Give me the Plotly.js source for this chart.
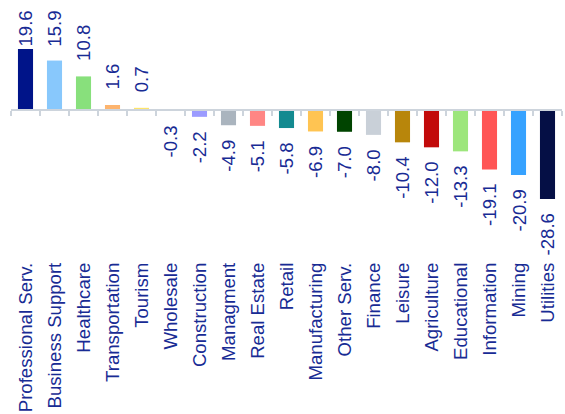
<!DOCTYPE html>
<html>
<head>
<meta charset="utf-8">
<script src="https://cdn.plot.ly/plotly-3.0.1.min.js"></script>
<style>html,body{margin:0;padding:0;background:#fff;}#chart{width:565px;height:414px;}</style>
</head>
<body>
<div id="chart"></div>
<script>
const categories = ["Professional Serv.", "Business Support", "Healthcare", "Transportation", "Tourism",
  "Wholesale", "Construction", "Managment", "Real Estate", "Retail", "Manufacturing", "Other Serv.",
  "Finance", "Leisure", "Agriculture", "Educational", "Information", "Mining", "Utilities"];
const values = [19.6, 15.9, 10.8, 1.6, 0.7, -0.3, -2.2, -4.9, -5.1, -5.8, -6.9, -7.0, -8.0, -10.4, -12.0, -13.3, -19.1, -20.9, -28.6];
const barColors = ["#001489", "#88c8fc", "#88e07c", "#fdb46e", "#fde46a", "#8de0e8", "#9b9bff", "#aab4be",
  "#ff8684", "#138a90", "#ffc452", "#004400", "#c9d0d8", "#b8860b", "#c20a0a", "#9de67c", "#ff5555", "#36a2ff", "#050f45"];
const valueLabels = values.map(v => v.toFixed(1));

const W = 565, H = 414;
const mt = 10, mb = 156, ml = 11, mr = 3;
const pxPerUnit = 3.11;
const zeroPx = 110;
const yMax = (zeroPx - mt) / pxPerUnit;
const yMin = -((H - mb) - zeroPx) / pxPerUnit;
const textColor = "#182b94";
const fontFamily = "Liberation Sans, Arial, sans-serif";
const fontSize = 18.6;
const gap = 13;

const annotations = values.map((v, i) => {
  let shift = gap;
  if (v >= 0) {
    const barTop = zeroPx - v * pxPerUnit;
    const avail = barTop - mt - 2;
    const textLen = valueLabels[i].length * 0.5 * fontSize;
    shift = Math.min(gap, Math.max(0, avail - textLen));
  }
  return {
    x: categories[i], y: v, xref: "x", yref: "y",
    text: valueLabels[i], textangle: -90, showarrow: false,
    yanchor: v >= 0 ? "bottom" : "top",
    yshift: v >= 0 ? shift : -shift,
    font: {family: fontFamily, size: fontSize, color: textColor}
  };
});

const data = [
  {type: "bar", x: categories, y: values, marker: {color: barColors}, width: 0.52,
   hoverinfo: "skip", showlegend: false, xaxis: "x", yaxis: "y"},
  {type: "scatter", x: categories, y: values, mode: "markers", marker: {opacity: 0, size: 1},
   hoverinfo: "skip", showlegend: false, xaxis: "x2", yaxis: "y"}
];

const layout = {
  width: W, height: H,
  margin: {l: ml, r: mr, t: mt, b: mb, pad: 0},
  paper_bgcolor: "#ffffff", plot_bgcolor: "#ffffff",
  showlegend: false,
  xaxis: {
    type: "category", range: [-0.5, categories.length - 0.5],
    anchor: "free", position: (0 - yMin) / (yMax - yMin),
    showline: true, linecolor: "#cdd4dc", linewidth: 2,
    ticks: "outside", ticklen: 5, tickwidth: 1.5, tickcolor: "#cdd4dc",
    tickson: "boundaries", showticklabels: false, showgrid: false, zeroline: false,
    fixedrange: true
  },
  xaxis2: {
    type: "category", overlaying: "x", anchor: "y", side: "bottom",
    range: [-0.5, categories.length - 0.5],
    showline: false, ticks: "", showgrid: false, zeroline: false,
    tickangle: -90, tickfont: {family: fontFamily, size: fontSize, color: textColor},
    fixedrange: true
  },
  yaxis: {range: [yMin, yMax], visible: false, showgrid: false, zeroline: false, fixedrange: true},
  annotations: annotations
};

Plotly.newPlot("chart", data, layout, {staticPlot: true, displayModeBar: false});
</script>
</body>
</html>
